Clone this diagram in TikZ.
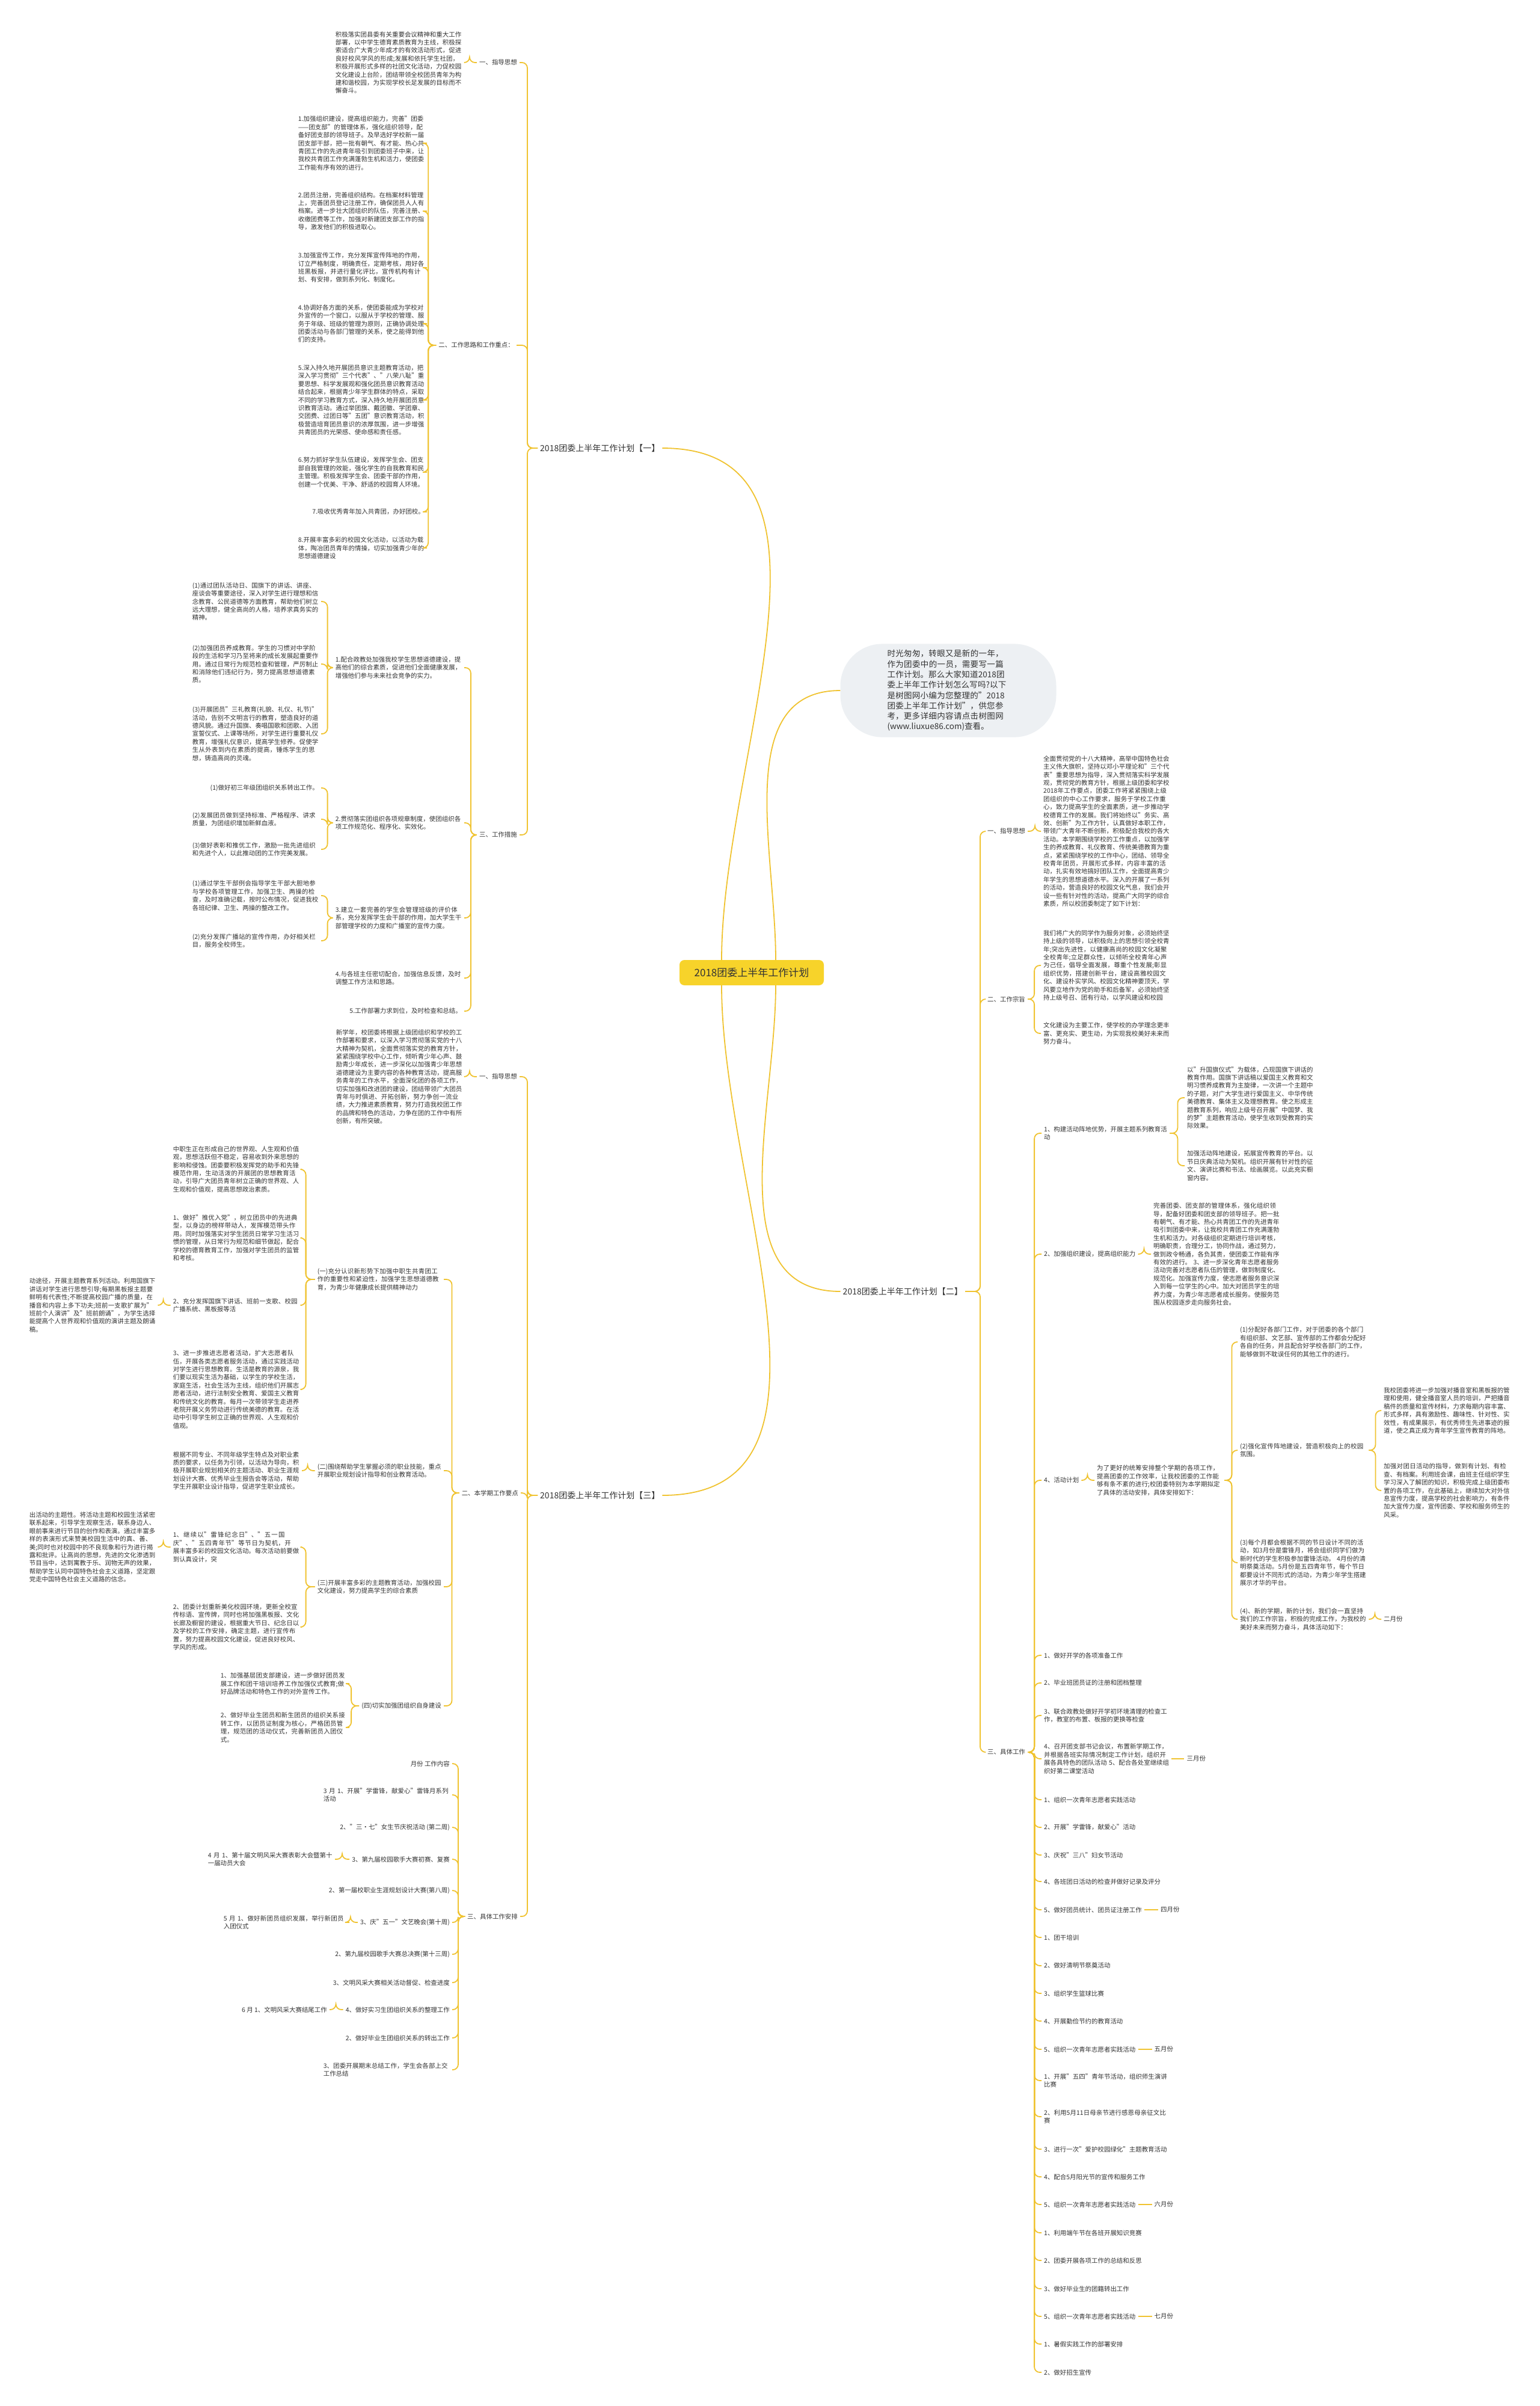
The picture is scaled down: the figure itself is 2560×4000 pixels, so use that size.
\documentclass[tikz,border=0pt]{standalone}
\usepackage{fontspec}
\setmainfont{Noto Sans CJK SC}
\XeTeXlinebreaklocale "zh"
\XeTeXlinebreakskip = 0pt plus 1pt
\usetikzlibrary{positioning}
\definecolor{lineY}{HTML}{F0C330}
\definecolor{rootY}{HTML}{F7D32A}
\definecolor{noteG}{HTML}{EDF0F3}
\definecolor{txt}{HTML}{333333}
\tikzset{
  conn/.style={draw=lineY, line width=1.8pt, rounded corners=9pt},
  tx/.style={font=\fontsize{10.45}{13.4}\selectfont, text=txt, inner sep=4pt, align=left},
  lab/.style={tx},
  para/.style={tx, text width=#1},
  para/.default=210pt,
  lone/.style={font=\fontsize{14}{17}\selectfont, text=txt, inner sep=4pt},
  root/.style={fill=rootY, rounded corners=8pt, minimum width=240pt, minimum height=42pt, font=\fontsize{17}{20}\selectfont, text=txt},
  note/.style={fill=noteG, rounded corners=70pt, text width=203pt, inner xsep=78pt, inner ysep=10pt, font=\fontsize{13.5}{17.3}\selectfont, text=txt, align=left}
}
\newcommand\linkL[3][12]{\draw[conn] (#2.west) -- ++(-#1,0) |- (#3.east);}
\newcommand\linkR[3][12]{\draw[conn] (#2.east) -- ++(#1,0) |- (#3.west);}
\begin{document}
\begin{tikzpicture}[x=1pt,y=-1pt]
\fill[white] (0,0) rectangle (2560,4000);
\useasboundingbox (0,0) rectangle (2560,4000);

% root and intro
\node[root] (root) at (1250,1617) {2018团委上半年工作计划};
\node[note] (intro) at (1577,1148) {时光匆匆，转眼又是新的一年，作为团委中的一员，需要写一篇工作计划。那么大家知道2018团委上半年工作计划怎么写吗?以下是树图网小编为您整理的"2018团委上半年工作计划"，供您参考，更多详细内容请点击树图网(www.liuxue86.com)查看。};
\node[lone, anchor=west] (L1a) at (894,745) {2018团委上半年工作计划【一】};
\node[lone, anchor=east] (L1b) at (1605,2147) {2018团委上半年工作计划【二】};
\node[lone, anchor=west] (L1c) at (894,2486) {2018团委上半年工作计划【三】};
\draw[conn] ([xshift=40pt]root.north) to[out=90,in=180] (intro.west);
\draw[conn] ([xshift=-50pt]root.north) to[out=90,in=0] (L1a.east);
\draw[conn] ([xshift=40pt]root.south) to[out=-90,in=180] (L1b.west);
\draw[conn] ([xshift=-50pt]root.south) to[out=-90,in=0] (L1c.east);

% ================= [一] =================
\node[lab, anchor=east] (a1) at (864,104) {一、指导思想};
\node[para, anchor=east] (a1p) at (772,104) {积极落实团县委有关重要会议精神和重大工作部署，以中学生德育素质教育为主线，积极探索适合广大青少年成才的有效活动形式，促进良好校风学风的形成;发展和依托学生社团，积极开展形式多样的社团文化活动，力促校园文化建设上台阶，团结带领全校团员青年为构建和谐校园，为实现学校长足发展的目标而不懈奋斗。};
\node[lab, anchor=east] (a2) at (859,574) {二、工作思路和工作重点：};
\node[para, anchor=east] (a21) at (710,238) {1.加强组织建设，提高组织能力，完善"团委——团支部"的管理体系，强化组织领导，配备好团支部的领导班子。及早选好学校新一届团支部干部，把一批有朝气、有才能、热心共青团工作的先进青年吸引到团委班子中来，让我校共青团工作充满蓬勃生机和活力，使团委工作能有序有效的进行。};
\node[para, anchor=east] (a22) at (710,351) {2.团员注册，完善组织结构。在档案材料管理上，完善团员登记注册工作，确保团员人人有档案。进一步壮大团组织的队伍，完善注册、收缴团费等工作，加强对新建团支部工作的指导，激发他们的积极进取心。};
\node[para, anchor=east] (a23) at (710,445) {3.加强宣传工作，充分发挥宣传阵地的作用，订立严格制度，明确责任，定期考核，用好各班黑板报，并进行量化评比，宣传机构有计划、有安排，做到系列化、制度化。};
\node[para, anchor=east] (a24) at (710,538) {4.协调好各方面的关系，使团委能成为学校对外宣传的一个窗口，以服从于学校的管理、服务于年级、班级的管理为原则，正确协调处理团委活动与各部门管理的关系，使之能得到他们的支持。};
\node[para, anchor=east] (a25) at (710,665) {5.深入持久地开展团员意识主题教育活动，把深入学习贯彻"三个代表"、"八荣八耻"重要思想、科学发展观和强化团员意识教育活动结合起来，根据青少年学生群体的特点，采取不同的学习教育方式，深入持久地开展团员意识教育活动。通过举团旗、戴团徽、学团章、交团费、过团日等"五团"意识教育活动，积极营造培育团员意识的浓厚氛围，进一步增强共青团员的光荣感、使命感和责任感。};
\node[para, anchor=east] (a26) at (710,785) {6.努力抓好学生队伍建设，发挥学生会、团支部自我管理的效能，强化学生的自我教育和民主管理。积极发挥学生会、团委干部的作用，创建一个优美、干净、舒适的校园育人环境。};
\node[lab, anchor=east] (a27) at (710,851) {7.吸收优秀青年加入共青团，办好团校。};
\node[para, anchor=east] (a28) at (710,911) {8.开展丰富多彩的校园文化活动，以活动为载体，陶冶团员青年的情操，切实加强青少年的思想道德建设};
\node[lab, anchor=east] (a3) at (864,1388) {三、工作措施};
\node[para, anchor=east] (a31) at (772,1110) {1.配合政教处加强我校学生思想道德建设，提高他们的综合素质，促进他们全面健康发展，增强他们参与未来社会竞争的实力。};
\node[para, anchor=east] (a311) at (534,1000) {(1)通过团队活动日、国旗下的讲话、讲座、座谈会等重要途径，深入对学生进行理想和信念教育、公民道德等方面教育，帮助他们树立远大理想，健全高尚的人格，培养求真务实的精神。};
\node[para, anchor=east] (a312) at (534,1104) {(2)加强团员养成教育。学生的习惯对中学阶段的生活和学习乃至将来的成长发展起重要作用。通过日常行为规范检查和管理，严厉制止和消除他们违纪行为，努力提高思想道德素质。};
\node[para, anchor=east] (a313) at (534,1220) {(3)开展团员"三礼教育(礼貌、礼仪、礼节)"活动，告别不文明言行的教育，塑造良好的道德风貌。通过升国旗、奏唱国歌和团歌、入团宣誓仪式、上课等场所，对学生进行重要礼仪教育，增强礼仪意识，提高学生修养。促使学生从外表到内在素质的提高，锤炼学生的思想，铸造高尚的灵魂。};
\node[para, anchor=east] (a32) at (772,1368) {2.贯彻落实团组织各项规章制度，使团组织各项工作规范化、程序化、实效化。};
\node[lab, anchor=east] (a321) at (534,1310) {(1)做好初三年级团组织关系转出工作。};
\node[para, anchor=east] (a322) at (534,1362) {(2)发展团员做到坚持标准、严格程序、讲求质量，为团组织增加新鲜血液。};
\node[para, anchor=east] (a323) at (534,1412) {(3)做好表彰和推优工作，激励一批先进组织和先进个人，以此推动团的工作完美发展。};
\node[para, anchor=east] (a33) at (772,1526) {3.建立一套完善的学生会管理班级的评价体系，充分发挥学生会干部的作用，加大学生干部管理学校的力度和广播室的宣传力度。};
\node[para, anchor=east] (a331) at (534,1489) {(1)通过学生干部例会指导学生干部大胆地参与学校各项管理工作，加强卫生、两操的检查，及时准确记载，按时公布情况，促进我校各班纪律、卫生、两操的整改工作。};
\node[para, anchor=east] (a332) at (534,1564) {(2)充分发挥广播站的宣传作用，办好相关栏目，服务全校师生。};
\node[para, anchor=east] (a34) at (772,1626) {4.与各班主任密切配合，加强信息反馈，及时调整工作方法和思路。};
\node[lab, anchor=east] (a35) at (772,1681) {5.工作部署力求到位，及时检查和总结。};

\foreach \c in {a1,a2,a3} {\linkL[17]{L1a}{\c}}
\linkL{a1}{a1p}
\foreach \c in {a21,a22,a23,a24,a25,a26,a27,a28} {\linkL[13]{a2}{\c}}
\foreach \c in {a31,a32,a33,a34,a35} {\linkL[10]{a3}{\c}}
\foreach \c in {a311,a312,a313} {\linkL[9]{a31}{\c}}
\foreach \c in {a321,a322,a323} {\linkL[9]{a32}{\c}}
\foreach \c in {a331,a332} {\linkL[9]{a33}{\c}}

% ================= [三] =================
\node[lab, anchor=east] (c1) at (864,1790) {一、指导思想};
\node[para, anchor=east] (c1p) at (773,1790) {新学年，校团委将根据上级团组织和学校的工作部署和要求，以深入学习贯彻落实党的十八大精神为契机，全面贯彻落实党的教育方针，紧紧围绕学校中心工作，倾听青少年心声、鼓励青少年成长，进一步深化以加强青少年思想道德建设为主要内容的各种教育活动，提高服务青年的工作水平，全面深化团的各项工作，切实加强和改进团的建设，团结带领广大团员青年与时俱进、开拓创新，努力争创一流业绩，大力推进素质教育，努力打造我校团工作的品牌和特色的活动，力争在团的工作中有所创新，有所突破。};
\node[lab, anchor=east] (c2) at (866,2482) {二、本学期工作要点};
\node[para=206pt, anchor=east] (c21) at (738,2127) {(一)充分认识新形势下加强中职生共青团工作的重要性和紧迫性，加强学生思想道德教育，为青少年健康成长提供精神动力};
\node[para, anchor=east] (c211) at (502,1944) {中职生正在形成自己的世界观、人生观和价值观，思想活跃但不稳定，容易收到外来思想的影响和侵蚀。团委要积极发挥党的助手和先锋模范作用，生动活泼的开展团的思想教育活动，引导广大团员青年树立正确的世界观、人生观和价值观，提高思想政治素质。};
\node[para, anchor=east] (c212) at (502,2058) {1、做好"推优入党"，树立团员中的先进典型，以身边的榜样带动人，发挥模范带头作用。同时加强落实对学生团员日常学习生活习惯的管理，从日常行为规范和细节做起，配合学校的德育教育工作，加强对学生团员的监管和考核。};
\node[para, anchor=east] (c213) at (502,2170) {2、充分发挥国旗下讲话、班前一支歌、校园广播系统、黑板报等活};
\node[para, anchor=east] (c213p) at (263,2170) {动途径，开展主题教育系列活动。利用国旗下讲话对学生进行思想引导;每期黑板报主题要鲜明有代表性;不断提高校园广播的质量，在播音和内容上多下功夫;班前一支歌扩展为"班前个人演讲"及"班前朗诵"，为学生选择能提高个人世界观和价值观的演讲主题及朗诵稿。};
\node[para, anchor=east] (c214) at (502,2310) {3、进一步推进志愿者活动，扩大志愿者队伍，开展各类志愿者服务活动，通过实践活动对学生进行思想教育。生活是教育的源泉，我们要以现实生活为基础，以学生的学校生活，家庭生活，社会生活为主线，组织他们开展志愿者活动，进行法制安全教育、爱国主义教育和传统文化的教育。每月一次带领学生走进养老院开展义务劳动进行传统美德的教育。在活动中引导学生树立正确的世界观、人生观和价值观。};
\node[para=206pt, anchor=east] (c22) at (738,2445) {(二)围绕帮助学生掌握必须的职业技能，重点开展职业规划设计指导和创业教育活动。};
\node[para, anchor=east] (c22p) at (502,2445) {根据不同专业、不同年级学生特点及对职业素质的要求，以任务为引领，以活动为导向，积极开展职业规划相关的主题活动、职业生涯规划设计大赛、优秀毕业生报告会等活动，帮助学生开展职业设计指导，促进学生职业成长。};
\node[para=206pt, anchor=east] (c23) at (738,2638) {(三)开展丰富多彩的主题教育活动，加强校园文化建设，努力提高学生的综合素质};
\node[para, anchor=east] (c231) at (502,2572) {1、继续以"雷锋纪念日"、"五一国庆"、"五四青年节"等节日为契机，开展丰富多彩的校园文化活动。每次活动前要做到认真设计，突};
\node[para, anchor=east] (c231p) at (263,2572) {出活动的主题性。将活动主题和校园生活紧密联系起来，引导学生观察生活，联系身边人、眼前事来进行节目的创作和表演。通过丰富多样的表演形式来赞美校园生活中的真、善、美;同时也对校园中的不良现象和行为进行揭露和批评。让高尚的思想，先进的文化渗透到节目当中，达到寓教于乐、润物无声的效果，帮助学生认同中国特色社会主义道路，坚定跟党走中国特色社会主义道路的信念。};
\node[para, anchor=east] (c232) at (502,2705) {2、团委计划重新美化校园环境，更新全校宣传标语、宣传牌，同时也将加强黑板报、文化长廊及橱窗的建设，根据重大节日、纪念日以及学校的工作安排，确定主题，进行宣传布置，努力提高校园文化建设，促进良好校风、学风的形成。};
\node[lab, anchor=east] (c24) at (738,2836) {(四)切实加强团组织自身建设};
\node[para, anchor=east] (c241) at (581,2799) {1、加强基层团支部建设，进一步做好团员发展工作和团干培训培养工作加强仪式教育;做好品牌活动和特色工作的对外宣传工作。};
\node[para, anchor=east] (c242) at (581,2872) {2、做好毕业生团员和新生团员的组织关系接转工作，以团员证制度为核心，严格团员管理，规范团的活动仪式，完善新团员入团仪式。};
\node[lab, anchor=east] (c3) at (865,3186) {三、具体工作安排};
\node[lab, anchor=east] (c31) at (752,2932) {月份 工作内容};
\node[para, anchor=east] (c32) at (752,2984) {3 月 1、开展"学雷锋，献爱心"雷锋月系列活动};
\node[lab, anchor=east] (c33) at (752,3038) {2、"三·七"女生节庆祝活动 (第二周)};
\node[lab, anchor=east] (c34) at (752,3091) {3、第九届校园歌手大赛初赛、复赛};
\node[para=207pt, anchor=east] (c34p) at (557,3091) {4 月 1、第十届文明风采大赛表彰大会暨第十一届动员大会};
\node[lab, anchor=east] (c35) at (752,3143) {2、第一届校职业生涯规划设计大赛(第八周)};
\node[lab, anchor=east] (c36) at (752,3196) {3、庆"五一"文艺晚会(第十周)};
\node[para=205pt, anchor=east] (c36p) at (581,3196) {5 月 1、做好新团员组织发展，举行新团员入团仪式};
\node[lab, anchor=east] (c37) at (752,3249) {2、第九届校园歌手大赛总决赛(第十三周)};
\node[lab, anchor=east] (c38) at (752,3296) {3、文明风采大赛相关活动督促、检查进度};
\node[lab, anchor=east] (c39) at (752,3341) {4、做好实习生团组织关系的整理工作};
\node[lab, anchor=east] (c39p) at (548,3341) {6 月 1、文明风采大赛结尾工作};
\node[lab, anchor=east] (c3a) at (752,3388) {2、做好毕业生团组织关系的转出工作};
\node[para, anchor=east] (c3b) at (752,3441) {3、团委开展期末总结工作，学生会各部上交工作总结};

\foreach \c in {c1,c2,c3} {\linkL[17]{L1c}{\c}}
\linkL{c1}{c1p}
\foreach \c in {c21,c22,c23,c24} {\linkL[12]{c2}{\c}}
\foreach \c in {c211,c212,c213,c214} {\linkL[15]{c21}{\c}}
\linkL{c213}{c213p}
\linkL{c22}{c22p}
\foreach \c in {c231,c232} {\linkL[15]{c23}{\c}}
\linkL{c231}{c231p}
\foreach \c in {c241,c242} {\linkL[13]{c24}{\c}}
\foreach \c in {c31,c32,c33,c34,c35,c36,c37,c38,c39,c3a,c3b} {\linkL[11]{c3}{\c}}
\linkL{c34}{c34p}
\linkL{c36}{c36p}
\linkL{c39}{c39p}

% ================= [二] =================
\node[lab, anchor=west] (b1) at (1638,1382) {一、指导思想};
\node[para, anchor=west] (b1p) at (1731,1382) {全面贯彻党的十八大精神，高举中国特色社会主义伟大旗帜，坚持以邓小平理论和"三个代表"重要思想为指导，深入贯彻落实科学发展观，贯彻党的教育方针，根据上级团委和学校2018年工作要点，团委工作将紧紧围绕上级团组织的中心工作要求，服务于学校工作重心，致力提高学生的全面素质，进一步推动学校德育工作的发展。我们将始终以"务实、高效、创新"为工作方针，认真做好本职工作，带领广大青年不断创新，积极配合我校的各大活动。本学期围绕学校的工作重点，以加强学生的养成教育、礼仪教育、传统美德教育为重点，紧紧围绕学校的工作中心，团结、领导全校青年团员，开展形式多样，内容丰富的活动，扎实有效地搞好团队工作，全面提高青少年学生的思想道德水平。深入的开展了一系列的活动，营造良好的校园文化气息，我们会开设一些有针对性的活动，提高广大同学的综合素质，所以校团委制定了如下计划：};
\node[lab, anchor=west] (b2) at (1638,1661) {二、工作宗旨};
\node[para, anchor=west] (b2a) at (1731,1605) {我们将广大的同学作为服务对象，必须始终坚持上级的领导，以积极向上的思想引领全校青年;突出先进性，以健康高尚的校园文化凝聚全校青年;立足群众性，以倾听全校青年心声为己任，倡导全面发展，尊重个性发展;彰显组织优势，搭建创新平台，建设高雅校园文化、建设朴实学风、校园文化精神要顶天，学风要立地作为党的助手和后备军，必须始终坚持上级号召、团有行动，以学风建设和校园};
\node[para, anchor=west] (b2b) at (1731,1718) {文化建设为主要工作，使学校的办学理念更丰富、更充实、更生动，为实现我校美好未来而努力奋斗。};
\node[lab, anchor=west] (b3) at (1638,2913) {三、具体工作};
\node[para=205pt, anchor=west] (b31) at (1732,1884) {1、构建活动阵地优势，开展主题系列教育活动};
\node[para, anchor=west] (b31a) at (1970,1825) {以"升国旗仪式"为载体，凸现国旗下讲话的教育作用。国旗下讲话稿以爱国主义教育和文明习惯养成教育为主旋律，一次讲一个主题中的子题，对广大学生进行爱国主义、中华传统美德教育、集体主义及理想教育。使之形成主题教育系列，响应上级号召开展"中国梦、我的梦"主题教育活动，使学生收到受教育的实际效果。};
\node[para, anchor=west] (b31b) at (1970,1938) {加强活动阵地建设，拓展宣传教育的平台。以节日庆典活动为契机。组织开展有针对性的征文、演讲比赛和书法、绘画展览。以此充实橱窗内容。};
\node[lab, anchor=west] (b32) at (1732,2085) {2、加强组织建设，提高组织能力};
\node[para, anchor=west] (b32p) at (1914,2085) {完善团委、团支部的管理体系，强化组织领导，配备好团委和团支部的领导班子。把一批有朝气、有才能、热心共青团工作的先进青年吸引到团委中来，让我校共青团工作充满蓬勃生机和活力。对各级组织定期进行培训考核，明确职责，合理分工，协同作战，通过努力，做到政令畅通，各负其责，使团委工作能有序有效的进行。 3、进一步深化青年志愿者服务活动完善对志愿者队伍的管理，做到制度化、规范化。加强宣传力度，使志愿者服务意识深入到每一位学生的心中。加大对团员学生的培养力度，为青少年志愿者成长服务。使服务范围从校园逐步走向服务社会。};
\node[lab, anchor=west] (b34) at (1732,2461) {4、活动计划};
\node[para=208pt, anchor=west] (b34p) at (1820,2461) {为了更好的统筹安排整个学期的各项工作，提高团委的工作效率，让我校团委的工作能够有条不紊的进行;校团委特别为本学期拟定了具体的活动安排，具体安排如下：};
\node[para, anchor=west] (b341) at (2058,2231) {(1)分配好各部门工作，对于团委的各个部门有组织部、文艺部、宣传部的工作都会分配好各自的任务，并且配合好学校各部门的工作，能够做到不耽误任何的其他工作的进行。};
\node[para, anchor=west] (b342) at (2058,2411) {(2)强化宣传阵地建设，营造积极向上的校园氛围。};
\node[para, anchor=west] (b342a) at (2297,2345) {我校团委将进一步加强对播音室和黑板报的管理和使用，健全播音室人员的培训，严把播音稿件的质量和宣传材料，力求每期内容丰富、形式多样，具有激励性、趣味性、针对性、实效性，有成果展示，有优秀师生先进事迹的报道，使之真正成为青年学生宣传教育的阵地。};
\node[para, anchor=west] (b342b) at (2297,2478) {加强对团日活动的指导，做到有计划、有检查、有档案。利用班会课，由班主任组织学生学习深入了解团的知识，积极完成上级团委布置的各项工作，在此基础上，继续加大对外信息宣传力度，提高学校的社会影响力，有条件加大宣传力度，宣传团委、学校和服务师生的风采。};
\node[para, anchor=west] (b343) at (2058,2598) {(3)每个月都会根据不同的节日设计不同的活动，如3月份是雷锋月，将会组织同学们做为新时代的学生积极参加雷锋活动。 4月份的清明祭奠活动。5月份是五四青年节，每个节日都要设计不同形式的活动，为青少年学生搭建展示才华的平台。};
\node[para, anchor=west] (b344) at (2058,2692) {(4)、新的学期，新的计划，我们会一直坚持我们的工作宗旨，积极的完成工作，为我校的美好未来而努力奋斗，具体活动如下：};
\node[lab, anchor=west] (b344m) at (2297,2692) {二月份};

\node[lab, anchor=west] (d01) at (1732,2752) {1、做好开学的各项准备工作};
\node[lab, anchor=west] (d02) at (1732,2798) {2、毕业班团员证的注册和团档整理};
\node[para=205pt, anchor=west] (d03) at (1732,2852) {3、联合政教处做好开学初环境清理的检查工作，教室的布置、板报的更换等检查};
\node[para=208pt, anchor=west] (d04) at (1732,2924) {4、召开团支部书记会议，布置新学期工作，并根据各班实际情况制定工作计划，组织开展各具特色的团队活动 5、配合各处室继续组织好第二课堂活动};
\node[lab, right=21pt of d04] (d04m) {三月份};
\node[lab, anchor=west] (d05) at (1732,2992) {1、组织一次青年志愿者实践活动};
\node[lab, anchor=west] (d06) at (1732,3038) {2、开展"学雷锋，献爱心"活动};
\node[lab, anchor=west] (d07) at (1732,3084) {3、庆祝"三八"妇女节活动};
\node[lab, anchor=west] (d08) at (1732,3128) {4、各班团日活动的检查并做好记录及评分};
\node[lab, anchor=west] (d09) at (1732,3175) {5、做好团员统计、团员证注册工作};
\node[lab, right=23pt of d09] (d09m) {四月份};
\node[lab, anchor=west] (d10) at (1732,3221) {1、团干培训};
\node[lab, anchor=west] (d11) at (1732,3268) {2、做好清明节祭奠活动};
\node[lab, anchor=west] (d12) at (1732,3314) {3、组织学生篮球比赛};
\node[lab, anchor=west] (d13) at (1732,3360) {4、开展勤俭节约的教育活动};
\node[lab, anchor=west] (d14) at (1732,3407) {5、组织一次青年志愿者实践活动};
\node[lab, right=23pt of d14] (d14m) {五月份};
\node[para=205pt, anchor=west] (d15) at (1732,3459) {1、开展"五四"青年节活动，组织师生演讲比赛};
\node[para=205pt, anchor=west] (d16) at (1732,3519) {2、利用5月11日母亲节进行感恩母亲征文比赛};
\node[lab, anchor=west] (d17) at (1732,3573) {3、进行一次"爱护校园绿化"主题教育活动};
\node[lab, anchor=west] (d18) at (1732,3619) {4、配合5月阳光节的宣传和服务工作};
\node[lab, anchor=west] (d19) at (1732,3665) {5、组织一次青年志愿者实践活动};
\node[lab, right=23pt of d19] (d19m) {六月份};
\node[lab, anchor=west] (d20) at (1732,3712) {1、利用端午节在各班开展知识竞赛};
\node[lab, anchor=west] (d21) at (1732,3758) {2、团委开展各项工作的总结和反思};
\node[lab, anchor=west] (d22) at (1732,3805) {3、做好毕业生的团籍转出工作};
\node[lab, anchor=west] (d23) at (1732,3851) {5、组织一次青年志愿者实践活动};
\node[lab, right=23pt of d23] (d23m) {七月份};
\node[lab, anchor=west] (d24) at (1732,3897) {1、暑假实践工作的部署安排};
\node[lab, anchor=west] (d25) at (1732,3944) {2、做好招生宣传};

\foreach \c in {b1,b2,b3} {\linkR[25]{L1b}{\c}}
\linkR{b1}{b1p}
\foreach \c in {b2a,b2b} {\linkR[11]{b2}{\c}}
\foreach \c in {b31,b32,b34,d01,d02,d03,d04,d05,d06,d07,d08,d09,d10,d11,d12,d13,d14,d15,d16,d17,d18,d19,d20,d21,d22,d23,d24,d25} {\linkR[11]{b3}{\c}}
\foreach \c in {b31a,b31b} {\linkR[13]{b31}{\c}}
\linkR[10]{b32}{b32p}
\linkR[10]{b34}{b34p}
\foreach \c in {b341,b342,b343,b344} {\linkR[12]{b34p}{\c}}
\foreach \c in {b342a,b342b} {\linkR[11]{b342}{\c}}
\linkR[10]{b344}{b344m}
\foreach \c in {d04,d09,d14,d19,d23} {\draw[conn] (\c.east) -- (\c m.west);}
\end{tikzpicture}
\end{document}
